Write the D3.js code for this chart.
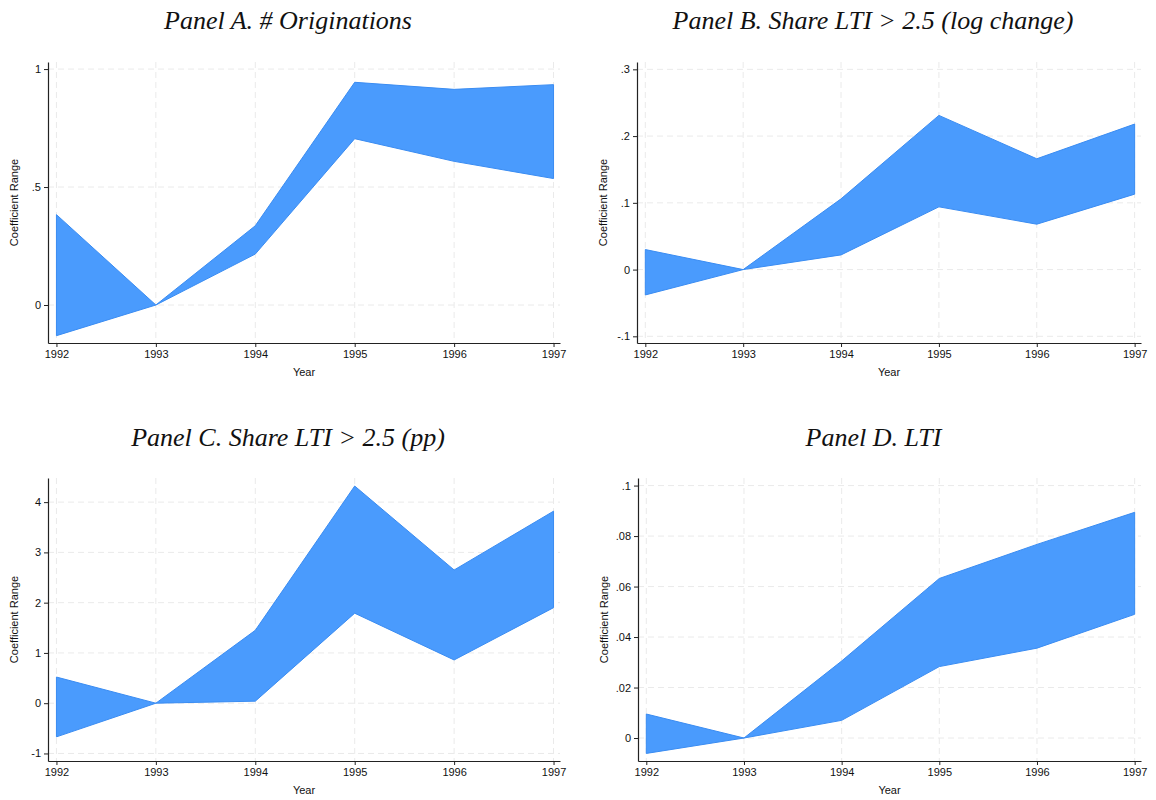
<!DOCTYPE html>
<html>
<head>
  <meta charset="utf-8">
  <script src="https://d3js.org/d3.v7.min.js"></script>
  <style>
    body { margin: 0; background: #fff; }
    .title { font-family: "Liberation Serif", "DejaVu Serif", serif; font-style: italic; font-size: 26px; fill: #111; }
    .tick text, .axis-title { font-family: "Liberation Sans", Arial, sans-serif; font-size: 11px; fill: #111; }
  </style>
</head>
<body>
<script>
  "use strict";

  // ---- data ----
  var years = [1992, 1993, 1994, 1995, 1996, 1997];

  var originationsUpper = [0.383, 0, 0.336, 0.944, 0.914, 0.934];
  var originationsLower = [-0.130, 0, 0.216, 0.705, 0.609, 0.536];

  var shareLogUpper = [0.030, 0, 0.106, 0.231, 0.166, 0.218];
  var shareLogLower = [-0.038, 0, 0.022, 0.094, 0.068, 0.113];

  var sharePpUpper = [0.52, 0, 1.45, 4.32, 2.65, 3.82];
  var sharePpLower = [-0.67, 0, 0.04, 1.79, 0.86, 1.90];

  var ltiUpper = [0.0095, 0, 0.0305, 0.0632, 0.0767, 0.0894];
  var ltiLower = [-0.0061, 0, 0.0070, 0.0283, 0.0356, 0.0490];

  var ticksA = [0, 0.5, 1];
  var tickLabelsA = ["0", ".5", "1"];
  var ticksB = [-0.1, 0, 0.1, 0.2, 0.3];
  var tickLabelsB = ["-.1", "0", ".1", ".2", ".3"];
  var ticksC = [-1, 0, 1, 2, 3, 4];
  var tickLabelsC = ["-1", "0", "1", "2", "3", "4"];
  var ticksD = [0, 0.02, 0.04, 0.06, 0.08, 0.1];
  var tickLabelsD = ["0", ".02", ".04", ".06", ".08", ".1"];

  var titles = ["Panel A. # Originations", "Panel B. Share LTI > 2.5 (log change)",
                "Panel C. Share LTI > 2.5 (pp)", "Panel D. LTI"];

  // ---- layout ----
  var panels = [
    { title: titles[0], upper: originationsUpper, lower: originationsLower, ticks: ticksA, labels: tickLabelsA,
      left: 48, right: 560, top: 62, bottom: 343, yDomain: [-0.161, 1.03], titleY: 29 },
    { title: titles[1], upper: shareLogUpper, lower: shareLogLower, ticks: ticksB, labels: tickLabelsB,
      left: 637, right: 1141, top: 62, bottom: 343, yDomain: [-0.110, 0.311], titleY: 29 },
    { title: titles[2], upper: sharePpUpper, lower: sharePpLower, ticks: ticksC, labels: tickLabelsC,
      left: 48, right: 560, top: 478, bottom: 761, yDomain: [-1.15, 4.48], titleY: 446 },
    { title: titles[3], upper: ltiUpper, lower: ltiLower, ticks: ticksD, labels: tickLabelsD,
      left: 638, right: 1141, top: 478, bottom: 761, yDomain: [-0.0091, 0.103], titleY: 446 }
  ];

  var svg = d3.select("body").append("svg")
      .attr("width", 1156)
      .attr("height", 800);

  panels.forEach(function(p) {
    var g = svg.append("g");

    var x = d3.scaleLinear().domain([1991.915, 1997.065]).range([p.left, p.right]);
    var y = d3.scaleLinear().domain(p.yDomain).range([p.bottom, p.top]);

    // gridlines
    g.selectAll(".hgrid").data(p.ticks).enter().append("line")
        .attr("x1", p.left).attr("x2", p.right)
        .attr("y1", function(d) { return y(d); }).attr("y2", function(d) { return y(d); })
        .attr("stroke", "#eaeaea").attr("stroke-dasharray", "6,4");
    g.selectAll(".vgrid").data(years).enter().append("line")
        .attr("x1", function(d) { return x(d); }).attr("x2", function(d) { return x(d); })
        .attr("y1", p.top).attr("y2", p.bottom)
        .attr("stroke", "#eaeaea").attr("stroke-dasharray", "6,4");

    // range band
    var area = d3.area()
        .x(function(d, i) { return x(years[i]); })
        .y0(function(d, i) { return y(p.lower[i]); })
        .y1(function(d, i) { return y(p.upper[i]); });
    g.append("path")
        .attr("d", area(years))
        .attr("fill", "#4a9bfd")
        .attr("stroke", "#3a8cf2")
        .attr("stroke-width", 1);

    // axes
    var xAxis = d3.axisBottom(x).tickValues(years).tickFormat(d3.format("d"))
        .tickSizeInner(4).tickSizeOuter(0).tickPadding(3);
    var yAxis = d3.axisLeft(y).tickValues(p.ticks)
        .tickFormat(function(d, i) { return p.labels[i]; })
        .tickSizeInner(4).tickSizeOuter(0).tickPadding(3);

    var gx = g.append("g").attr("transform", "translate(0," + p.bottom + ")").call(xAxis);
    var gy = g.append("g").attr("transform", "translate(" + p.left + ",0)").call(yAxis);
    [gx, gy].forEach(function(a) {
      a.select(".domain").attr("stroke", "#222").attr("stroke-width", 1.2);
      a.selectAll(".tick line").attr("stroke", "#222");
      a.selectAll(".tick text").attr("font-family", null).attr("font-size", null);
    });

    // titles
    g.append("text").attr("class", "title")
        .attr("x", (p.left + p.right) / 2 - 16).attr("y", p.titleY)
        .attr("text-anchor", "middle").text(p.title);
    g.append("text").attr("class", "axis-title")
        .attr("x", (p.left + p.right) / 2).attr("y", p.bottom + 33)
        .attr("text-anchor", "middle").text("Year");
    g.append("text").attr("class", "axis-title")
        .attr("transform", "translate(" + (p.left - 30) + "," + ((p.top + p.bottom) / 2) + ") rotate(-90)")
        .attr("text-anchor", "middle").text("Coefficient Range");
  });
</script>
</body>
</html>
